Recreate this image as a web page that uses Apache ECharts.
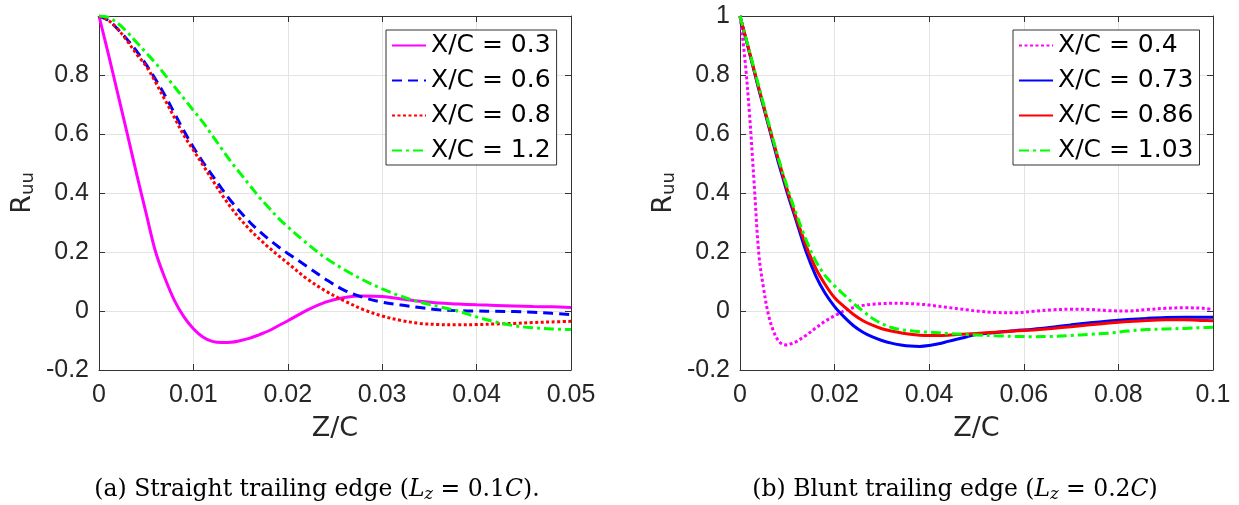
<!DOCTYPE html>
<html><head><meta charset="utf-8">
<script src="https://cdn.jsdelivr.net/npm/echarts@6/dist/echarts.min.js"></script>
<style>html,body{margin:0;padding:0;background:#fff}#c{width:1239px;height:505px}</style>
</head><body><div id="c"></div>
<script>
// ---- Panel (a): straight trailing edge ----
const zA = [0,.001,.002,.003,.004,.005,.006,.007,.008,.009,.010,.011,.012,.013,.014,.015,.016,.017,.018,.019,.020,.022,.024,.026,.028,.030,.032,.034,.036,.038,.040,.042,.044,.046,.048,.050];
const ruuA_03 = [1.0,.87,.735,.6,.462,.33,.2,.11,.035,-.02,-.06,-.088,-.103,-.107,-.106,-.1,-.092,-.08,-.067,-.05,-.033,.002,.03,.046,.051,.049,.041,.033,.027,.024,.021,.019,.017,.015,.014,.012];
const ruuA_06 = [1.0,.985,.955,.92,.88,.835,.785,.73,.67,.61,.555,.505,.46,.415,.372,.335,.30,.27,.243,.218,.195,.152,.108,.07,.046,.03,.02,.012,.004,.001,0,-.001,-.002,-.004,-.008,-.012];
const ruuA_08 = [1.0,.985,.955,.915,.87,.83,.775,.715,.655,.595,.545,.495,.445,.395,.35,.31,.275,.244,.215,.188,.162,.11,.068,.034,.005,-.017,-.032,-.042,-.046,-.047,-.046,-.044,-.042,-.039,-.037,-.035];
const ruuA_12 = [1.0,.995,.975,.945,.91,.875,.84,.8,.76,.72,.68,.64,.595,.55,.505,.465,.425,.385,.35,.315,.285,.23,.18,.14,.105,.075,.05,.03,.015,0,-.02,-.037,-.05,-.057,-.061,-.063];
const namesA = ['X/C = 0.3','X/C = 0.6','X/C = 0.8','X/C = 1.2'];

// ---- Panel (b): blunt trailing edge ----
const zB = [0,.001,.002,.003,.004,.005,.006,.007,.008,.009,.010,.011,.012,.014,.016,.018,.020,.022,.024,.026,.028,.030,.032,.034,.036,.038,.040,.042,.044,.046,.048,.050,.054,.058,.062,.066,.070,.074,.078,.082,.086,.090,.094,.098,.100];
const ruuB_04 = [1.0,.86,.67,.43,.19,.075,-.012,-.065,-.098,-.113,-.115,-.11,-.103,-.082,-.058,-.035,-.016,0,.012,.019,.023,.025,.026,.026,.025,.023,.02,.016,.012,.008,.004,0,-.005,-.006,-.001,.004,.006,.005,.001,0,.005,.009,.011,.009,.005];
const ruuB_073 = [1.0,.938,.875,.812,.75,.69,.63,.57,.51,.455,.4,.35,.3,.2,.12,.06,.015,-.02,-.05,-.072,-.088,-.1,-.109,-.115,-.119,-.12,-.117,-.111,-.103,-.095,-.087,-.08,-.073,-.067,-.062,-.055,-.047,-.04,-.034,-.029,-.025,-.022,-.021,-.021,-.021];
const ruuB_086 = [1.0,.939,.878,.816,.755,.695,.635,.577,.52,.465,.41,.36,.31,.22,.145,.09,.045,.015,-.012,-.033,-.048,-.06,-.068,-.074,-.079,-.082,-.083,-.083,-.082,-.08,-.078,-.076,-.072,-.068,-.064,-.059,-.053,-.047,-.041,-.036,-.032,-.03,-.03,-.032,-.033];
const ruuB_103 = [1.0,.94,.88,.82,.76,.70,.64,.582,.525,.47,.42,.37,.325,.24,.17,.12,.085,.055,.025,0,-.025,-.043,-.056,-.063,-.067,-.07,-.072,-.074,-.076,-.078,-.08,-.081,-.084,-.086,-.087,-.086,-.083,-.079,-.075,-.068,-.063,-.061,-.059,-.056,-.055];
const namesB = ['X/C = 0.4','X/C = 0.73','X/C = 0.86','X/C = 1.03'];

const captionA = '(a) Straight trailing edge ({i|L}{s|z} = 0.1{i|C}).';
const captionB = '(b) Blunt trailing edge ({i|L}{s|z} = 0.2{i|C})';

function pairs(x, y) { return x.map((v, i) => [v, y[i]]); }
function fmt(v) { return String(Math.round(v * 1000) / 1000); }

const AX = '#333333';
const tickFont = { fontFamily: 'Liberation Sans', fontSize: 25, color: '#262626' };
const nameFont = { fontFamily: 'DejaVu Sans', fontSize: 27, color: '#262626' };

function xMain(grid, max, interval) {
  return { type: 'value', gridIndex: grid, min: 0, max: max, interval: interval, position: 'bottom',
    axisLine: { show: true, onZero: false, lineStyle: { color: AX, width: 1 } },
    axisTick: { show: true, inside: true, length: 6, lineStyle: { color: AX } },
    axisLabel: Object.assign({ margin: 13, formatter: fmt }, tickFont),
    splitLine: { show: true, lineStyle: { color: '#e3e3e3', width: 1 } },
    name: 'Z/C', nameLocation: 'middle', nameGap: 45, nameTextStyle: nameFont };
}
function xTop(grid, max, interval) {
  return { type: 'value', gridIndex: grid, min: 0, max: max, interval: interval, position: 'top',
    axisLine: { show: true, onZero: false, lineStyle: { color: AX, width: 1 } },
    axisTick: { show: true, inside: true, length: 6, lineStyle: { color: AX } },
    axisLabel: { show: false }, splitLine: { show: false } };
}
function yMain(grid, hideOne) {
  return { type: 'value', gridIndex: grid, min: -0.2, max: 1, interval: 0.2, position: 'left',
    axisLine: { show: true, onZero: false, lineStyle: { color: AX, width: 1 } },
    axisTick: { show: true, inside: true, length: 6, lineStyle: { color: AX } },
    axisLabel: Object.assign({ margin: 10, formatter: v => (hideOne && Math.abs(v - 1) < 1e-9) ? '' : fmt(v) }, tickFont),
    splitLine: { show: true, lineStyle: { color: '#e3e3e3', width: 1 } },
    name: '{r|R}{s|uu}', nameLocation: 'middle', nameGap: 62,
    nameTextStyle: { fontFamily: 'DejaVu Sans', color: '#262626',
      rich: { r: { fontFamily: 'DejaVu Sans', fontSize: 27, color: '#262626' },
              s: { fontFamily: 'DejaVu Sans', fontSize: 18, color: '#262626', padding: [11, 0, 0, 0] } } } };
}
function yRight(grid) {
  return { type: 'value', gridIndex: grid, min: -0.2, max: 1, interval: 0.2, position: 'right',
    axisLine: { show: true, onZero: false, lineStyle: { color: AX, width: 1 } },
    axisTick: { show: true, inside: true, length: 6, lineStyle: { color: AX } },
    axisLabel: { show: false }, splitLine: { show: false } };
}
function line(name, xi, x, y, color, type, width) {
  return { type: 'line', name: name, xAxisIndex: xi, yAxisIndex: xi, data: pairs(x, y),
    symbol: 'none', showSymbol: false, smooth: 0.35,
    lineStyle: { color: color, width: width, type: type }, itemStyle: { color: color } };
}
const DASH = [10, 6], DOT = [3, 2.5], DASHDOT = [10, 4, 3, 4];

function legend(data, left) {
  return { data: data, orient: 'vertical', left: left, top: 30, padding: [3, 6, 2, 5], itemGap: 10,
    itemWidth: 34, itemHeight: 25, borderColor: AX, borderWidth: 1, backgroundColor: '#fff',
    itemStyle: { opacity: 0 },
    textStyle: { fontFamily: 'DejaVu Sans', fontSize: 25, color: '#000', lineHeight: 25 } };
}
const capRich = {
  i: { fontFamily: 'DejaVu Serif', fontSize: 23.5, fontStyle: 'italic', fill: '#000' },
  s: { fontFamily: 'DejaVu Serif', fontSize: 16, fontStyle: 'italic', fill: '#000', padding: [9, 0, 0, 0] }
};

const chart = echarts.init(document.getElementById('c'), null, { renderer: 'canvas' });
chart.setOption({
  animation: false,
  backgroundColor: '#ffffff',
  grid: [
    { left: 99, top: 16, width: 472, height: 354 },
    { left: 740, top: 16, width: 473, height: 354 }
  ],
  xAxis: [xMain(0, 0.05, 0.01), xMain(1, 0.1, 0.02), xTop(0, 0.05, 0.01), xTop(1, 0.1, 0.02)],
  yAxis: [yMain(0, true), yMain(1, false), yRight(0), yRight(1)],
  legend: [legend(namesA, 386), legend(namesB, 1013)],
  series: [
    line(namesA[0], 0, zA, ruuA_03, '#ff00ff', 'solid', 3),
    line(namesA[1], 0, zA, ruuA_06, '#0000ff', DASH, 3),
    line(namesA[2], 0, zA, ruuA_08, '#ff0000', DOT, 3),
    line(namesA[3], 0, zA, ruuA_12, '#00ff00', DASHDOT, 3),
    line(namesB[0], 1, zB, ruuB_04, '#ff00ff', DOT, 3),
    line(namesB[1], 1, zB, ruuB_073, '#0000ff', 'solid', 3),
    line(namesB[2], 1, zB, ruuB_086, '#ff0000', 'solid', 3),
    line(namesB[3], 1, zB, ruuB_103, '#00ff00', DASHDOT, 3)
  ],
  graphic: [
    { type: 'text', x: 317, y: 490, style: { text: captionA, fontFamily: 'DejaVu Serif', fontSize: 23.5, fill: '#000', align: 'center', verticalAlign: 'middle', rich: capRich } },
    { type: 'text', x: 955, y: 490, style: { text: captionB, fontFamily: 'DejaVu Serif', fontSize: 23.5, fill: '#000', align: 'center', verticalAlign: 'middle', rich: capRich } }
  ]
});
</script>
</body></html>
